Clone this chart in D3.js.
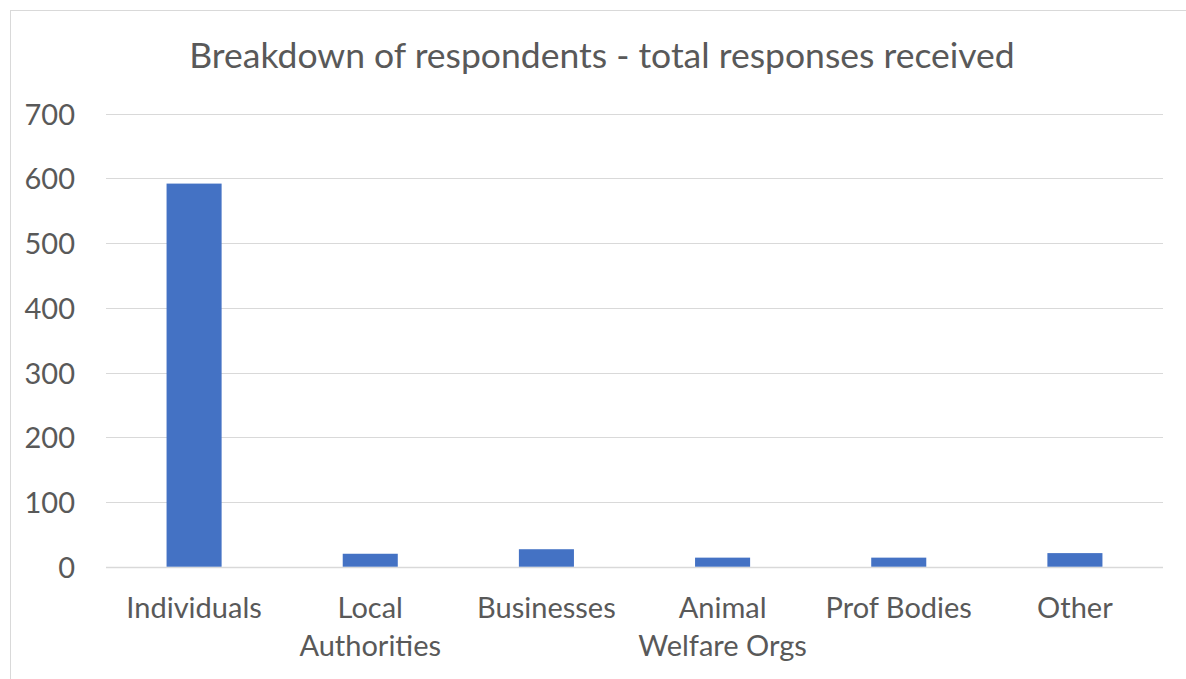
<!DOCTYPE html>
<html>
<head>
<meta charset="utf-8">
<script src="https://cdn.jsdelivr.net/npm/d3@7"></script>
<style>
  html, body { margin: 0; padding: 0; background: #fff; }
  svg { display: block; }
  text { font-family: "Lato", "Open Sans", sans-serif; fill: #595959; }
</style>
</head>
<body>
<svg id="chart" width="1186" height="679"></svg>
<script>
// Respondent groups and the number of responses from each
const categories = ["Individuals", "Local Authorities", "Businesses", "Animal Welfare Orgs", "Prof Bodies", "Other"];
const responses = [592, 20, 27, 14, 14, 21];
const yTicks = [0, 100, 200, 300, 400, 500, 600, 700];
const title = "Breakdown of respondents - total responses received";

const svg = d3.select("#chart");
const W = 1186, H = 679;
const plot = { left: 106, right: 1163, top: 113.7, bottom: 566.7 };
const labelSize = 29;

// Chart area frame
svg.append("rect")
  .attr("x", 10.5).attr("y", 10.5)
  .attr("width", W + 10).attr("height", H + 10)
  .attr("fill", "#fff").attr("stroke", "#d9d9d9").attr("stroke-width", 1);

const x = d3.scaleBand()
  .domain(categories)
  .range([plot.left, plot.right])
  .paddingInner(0.6875)
  .paddingOuter(0.34375);

const y = d3.scaleLinear()
  .domain([0, 700])
  .range([plot.bottom, plot.top]);

// Horizontal gridlines
svg.append("g")
  .selectAll("line")
  .data(yTicks)
  .join("line")
  .attr("x1", plot.left).attr("x2", plot.right)
  .attr("y1", d => Math.round(y(d)) + 0.5)
  .attr("y2", d => Math.round(y(d)) + 0.5)
  .attr("stroke", "#d9d9d9")
  .attr("stroke-width", d => d === 0 ? 1.6 : 1.2);

// Y axis labels
const yAxis = d3.axisLeft(y).tickValues(yTicks).tickSize(0).tickPadding(0);
const gy = svg.append("g")
  .attr("transform", `translate(75,0)`)
  .call(yAxis);
gy.select(".domain").remove();
gy.selectAll("text")
  .style("font-size", labelSize + "px")
  .attr("fill", "#595959")
  .attr("dy", "0.36em");

// Bars
svg.append("g")
  .selectAll("rect")
  .data(categories)
  .join("rect")
  .attr("x", d => x(d))
  .attr("width", x.bandwidth())
  .attr("y", (d, i) => y(responses[i]))
  .attr("height", (d, i) => y(0) - y(responses[i]))
  .attr("fill", "#4472c4");

// Category labels, wrapped to the band width
const xAxis = d3.axisBottom(x).tickSize(0).tickPadding(0);
const gx = svg.append("g")
  .attr("transform", `translate(0,${plot.bottom})`)
  .call(xAxis);
gx.select(".domain").remove();
const maxW = x.step() * 0.97;
gx.selectAll("text")
  .style("font-size", labelSize + "px")
  .attr("fill", "#595959")
  .each(function(d) {
    const t = d3.select(this);
    t.text(null).attr("y", 0).attr("dy", null);
    const words = d.split(" ");
    const lines = [];
    let cur = [];
    const probe = t.append("tspan");
    words.forEach(w => {
      const trial = cur.concat([w]).join(" ");
      probe.text(trial);
      if (cur.length && probe.node().getComputedTextLength() > maxW) {
        lines.push(cur.join(" "));
        cur = [w];
      } else {
        cur.push(w);
      }
    });
    lines.push(cur.join(" "));
    probe.remove();
    lines.forEach((ln, i) => {
      t.append("tspan")
        .attr("x", 0)
        .attr("y", 51 + i * 38)
        .text(ln);
    });
  });

// Title
svg.append("text")
  .attr("x", 602)
  .attr("y", 68)
  .attr("text-anchor", "middle")
  .style("font-size", "35.5px")
  .text(title);
</script>
</body>
</html>
